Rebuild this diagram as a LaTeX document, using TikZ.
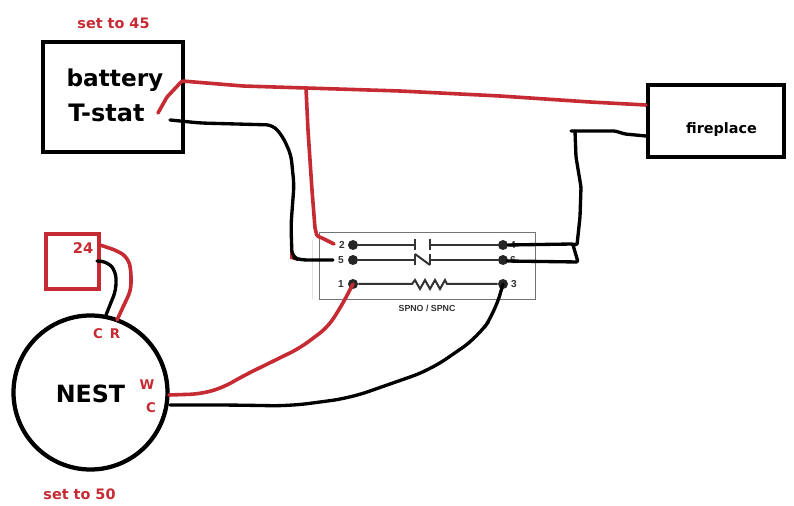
\documentclass[tikz,border=0pt]{standalone}
\usepackage{fontspec}
\setmainfont{Liberation Sans}
\newfontfamily\heavyfont{DejaVu Sans}
\definecolor{wred}{HTML}{C62B33}
\definecolor{swg}{HTML}{333333}
\tikzset{
  x=0.75pt,y=-0.75pt,
  redwire/.style={draw=wred,line width=2.7pt,line join=round,line cap=round,rounded corners=5pt},
  blackwire/.style={draw=black,line width=2.5pt,line join=round,line cap=round,rounded corners=5pt},
  heavybox/.style={draw=black,line width=3.2pt,fill=white,inner sep=0pt,anchor=center},
  redlabel/.style={text=wred,inner sep=0pt},
  blacklabel/.style={text=black,inner sep=0pt},
  pindot/.style={circle,fill=black!85,inner sep=0pt,minimum size=7.5pt},
  pinlabel/.style={text=swg,font=\fontsize{7.6}{9}\selectfont\bfseries,inner sep=0pt},
  swline/.style={draw=swg,line width=1.5pt}
}
\begin{document}
\begin{tikzpicture}
\useasboundingbox (0,0) rectangle (794,506);
\fill[white] (0,0) rectangle (794,506);
% switch housing
\node[draw=black!55,line width=0.6pt,minimum width=162pt,minimum height=50.25pt,inner sep=0pt] (housing) at (427,265.5) {};
\draw[black!12,line width=0.5pt] (312,240) -- (312,299);
% pins
\node[pindot] (p2) at (353,245) {};
\node[pindot] (p5) at (353,260) {};
\node[pindot] (p1) at (353,284) {};
\node[pindot] (p4) at (503,245) {};
\node[pindot] (p6) at (503,260) {};
\node[pindot] (p3) at (503,284) {};
\node[pinlabel] at (342,245) {2};
\node[pinlabel] at (341,260) {5};
\node[pinlabel] at (341,284) {1};
\node[pinlabel] at (513,245) {4};
\node[pinlabel] at (513,260) {6};
\node[pinlabel] at (514,284) {3};
\node[pinlabel,font=\fontsize{6.6}{8}\selectfont\bfseries] (swname) at (427,308) {SPNO / SPNC};
% contacts
\coordinate (noa) at (415,245);
\coordinate (nob) at (430,245);
\coordinate (nca) at (415,260);
\coordinate (ncb) at (430,260);
\coordinate (ra) at (412,284);
\coordinate (rb) at (447,284);
\draw[swline] (p2) -- (noa) (nob) -- (p4);
\draw[swline] (noa)+(0,-5.5) -- +(0,5.5);
\draw[swline] (nob)+(0,-5.5) -- +(0,5.5);
\draw[swline] (p5) -- (nca) (ncb) -- (p6);
\draw[swline] (415,254) -- (415,265) (430,254) -- (430,265);
\draw[swline] (415,254) -- (430,265);
\draw[swline] (p1) -- (ra) -- (415,280) -- (420,289) -- (425,280) -- (430,289) -- (435,280) -- (440,289) -- (445,280) -- (rb) -- (p3);
% main boxes
\node[heavybox,minimum width=105pt,minimum height=82.5pt] (tstat) at (113,97) {};
\node[heavybox,minimum width=102pt,minimum height=54.5pt] (fire) at (716,121) {};
\node[draw=black,line width=3.2pt,circle,inner sep=0pt,minimum size=115.5pt,fill=white] (nest) at (90.5,392.5) {};
\node[draw=wred,line width=3.2pt,inner sep=0pt,minimum width=39.5pt,minimum height=41.5pt] (psu) at (72.5,261.5) {};
% labels
\node[redlabel,font=\heavyfont\fontsize{10.8}{12}\selectfont\bfseries] (lab45) at (113.5,23.5) {set to 45};
\node[blacklabel,font=\heavyfont\fontsize{17.4}{20}\selectfont\bfseries] (labbat) at (115,80) {battery};
\node[blacklabel,font=\heavyfont\fontsize{18}{20}\selectfont\bfseries] (labts) at (106.5,113) {T-stat};
\node[blacklabel,font=\heavyfont\fontsize{10.8}{13}\selectfont\bfseries] (labfire) at (721.5,130) {fireplace};
\node[blacklabel,font=\heavyfont\fontsize{17.8}{21}\selectfont\bfseries] (labnest) at (90.5,394) {NEST};
\node[redlabel,font=\heavyfont\fontsize{11}{13}\selectfont\bfseries] (lab24) at (83,248) {24};
\node[redlabel,font=\heavyfont\fontsize{10}{13}\selectfont\bfseries] (labc) at (98,334) {C};
\node[redlabel,font=\heavyfont\fontsize{10}{13}\selectfont\bfseries] (labr) at (115,334) {R};
\node[redlabel,font=\heavyfont\fontsize{10}{13}\selectfont\bfseries] (labw) at (147,385) {W};
\node[redlabel,font=\heavyfont\fontsize{10}{13}\selectfont\bfseries] (labc2) at (151,408) {C};
\node[redlabel,font=\heavyfont\fontsize{10.8}{12}\selectfont\bfseries] (lab50) at (79.5,494) {set to 50};
% wire ends
\coordinate (tr) at (158,113);
\coordinate (tb) at (170,120);
\coordinate (j) at (306,88);
\coordinate (fr) at (646,105);
\coordinate (fb) at (646,136);
\coordinate (e2) at (334,244);
\coordinate (e5) at (333,260);
\coordinate (e4) at (508,245);
\coordinate (e6) at (507,261);
\coordinate (fend) at (571,131);
% red wires
\draw[redwire,rounded corners=1pt] (tr) -- (167,97) -- (182,81) -- (243,86) -- (j) -- (400,91) -- (500,96) -- (590,102) -- (fr);
\draw[redwire,rounded corners=1pt] (j) -- (308,130) -- (312,190) -- (315,228) -- (317,236) -- (322,238) -- (e2);
\draw[draw=wred,line width=1.5pt] (291,240) -- (291,258) -- (298,260);
\draw[redwire,rounded corners=8pt] (169,395) -- (200,394) -- (222,388) -- (245,375) -- (300,348) -- (328,327) -- (342,305) -- (p1.center);
\draw[redwire] (100,245) -- (118,251) -- (128,258) -- (131,270) -- (131,290) -- (117,320);
% black wires
\draw[blackwire] (tb) -- (200,123) -- (273,125) -- (283,137) -- (291,155) -- (294,185) -- (291,225) -- (292,257) -- (300,260) -- (e5);
\draw[blackwire,rounded corners=1pt] (fb) -- (625,134) -- (615,131) -- (fend);
\draw[blackwire,rounded corners=1pt] (575,131) -- (576,157) -- (581,187) -- (580,217) -- (577,245) -- (572,244) -- (e4);
\draw[blackwire,rounded corners=1pt] (573,245) -- (578,262) -- (e6);
\draw[blackwire,rounded corners=14pt] (170,405) -- (230,405) -- (290,406) -- (350,398) -- (430,370) -- (478,337) -- (495,312) -- (p3.center);
\draw[blackwire] (97,261) -- (108,262) -- (116,272) -- (116,290) -- (106,315);
\end{tikzpicture}
\end{document}
